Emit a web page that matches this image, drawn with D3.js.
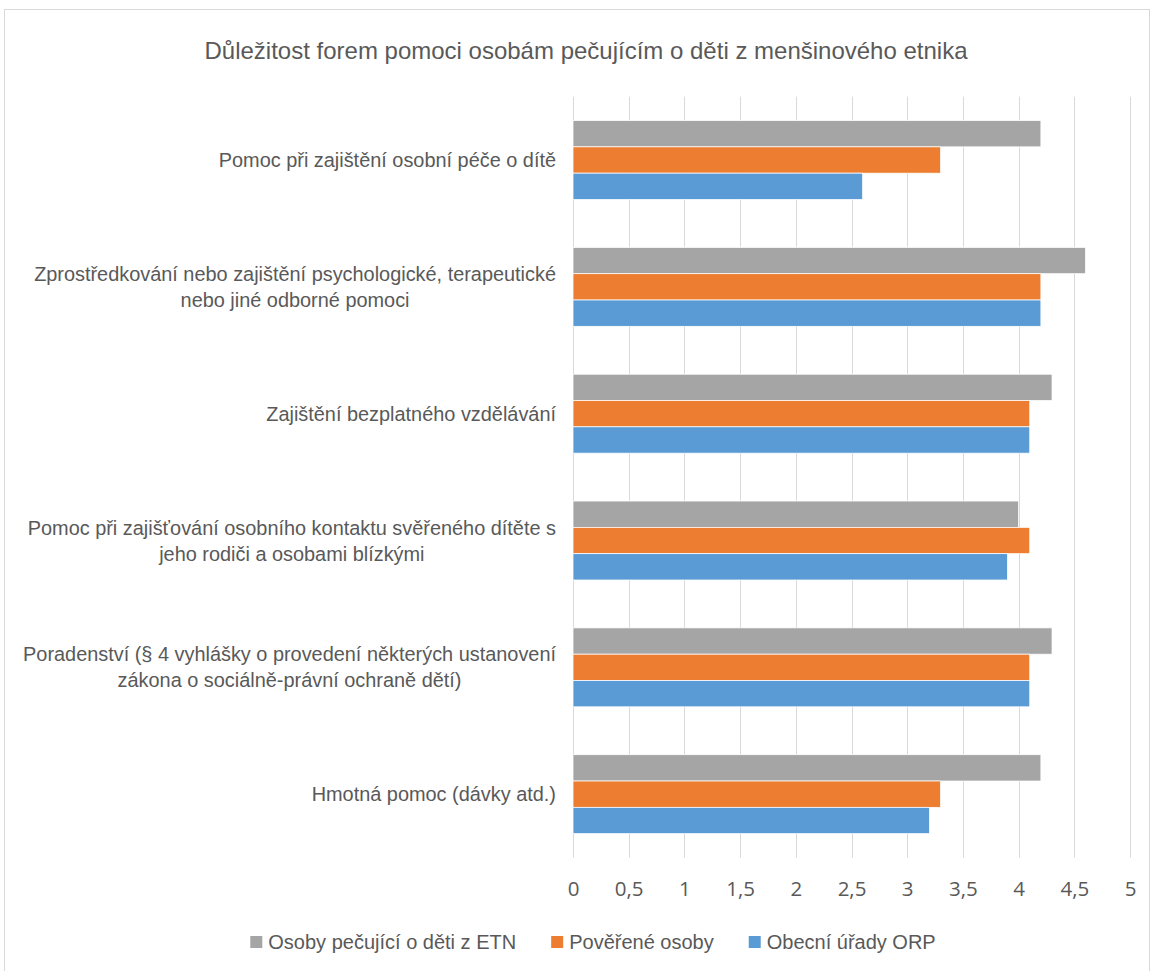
<!DOCTYPE html>
<html>
<head>
<meta charset="utf-8">
<script src="https://cdn.jsdelivr.net/npm/d3@7"></script>
<style>
  html, body { margin: 0; padding: 0; background: #fff; }
  svg { display: block; }
</style>
</head>
<body>
<svg id="chart" width="1153" height="971"></svg>
<script>
// Categories (top to bottom), each given as its wrapped label lines
const categories = [
  ["Pomoc při zajištění osobní péče o dítě"],
  ["Zprostředkování nebo zajištění psychologické, terapeutické", "nebo jiné odborné pomoci"],
  ["Zajištění bezplatného vzdělávání"],
  ["Pomoc při zajišťování osobního kontaktu svěřeného dítěte s", "jeho rodiči a osobami blízkými"],
  ["Poradenství (§ 4 vyhlášky o provedení některých ustanovení", "zákona o sociálně-právní ochraně dětí)"],
  ["Hmotná pomoc (dávky atd.)"]
];

const seriesNames = ["Osoby pečující o děti z ETN", "Pověřené osoby", "Obecní úřady ORP"];
const seriesColors = ["#A5A5A5", "#ED7D31", "#5B9BD5"];

// Average ratings per category, same order as categories
const valuesETN = [4.2, 4.6, 4.3, 4.0, 4.3, 4.2];
const valuesPoverene = [3.3, 4.2, 4.1, 4.1, 4.1, 3.3];
const valuesORP = [2.6, 4.2, 4.1, 3.9, 4.1, 3.2];

const tickValues = [0, 0.5, 1, 1.5, 2, 2.5, 3, 3.5, 4, 4.5, 5];
const titleText = "Důležitost forem pomoci osobám pečujícím o děti z menšinového etnika";

const seriesValues = [valuesETN, valuesPoverene, valuesORP];
const plot = { left: 573, right: 1130, top: 96.6, bottom: 857.6 };
const textColor = "#595959";
const sans = "'Liberation Sans', Arial, sans-serif";

const svg = d3.select("#chart");

// Chart frame
svg.append("rect")
  .attr("x", 4.5).attr("y", 9.5)
  .attr("width", 1145).attr("height", 980)
  .attr("fill", "#fff").attr("stroke", "#d9d9d9").attr("stroke-width", 1);

// Title
svg.append("text")
  .attr("x", 586).attr("y", 59)
  .attr("text-anchor", "middle")
  .attr("font-family", sans).attr("font-size", 24)
  .attr("fill", textColor)
  .text(titleText);

const x = d3.scaleLinear().domain([0, 5]).range([plot.left, plot.right]);
const catIdx = d3.range(categories.length);
const y0 = d3.scaleBand().domain(catIdx).range([plot.top, plot.bottom]).padding(0);
const y1 = d3.scaleBand().domain(d3.range(seriesNames.length))
  .range([0, y0.bandwidth()]).paddingInner(0).paddingOuter(0.91);

// Vertical gridlines
svg.append("g").selectAll("line")
  .data(tickValues).join("line")
  .attr("x1", d => Math.round(x(d)) + 0.5).attr("x2", d => Math.round(x(d)) + 0.5)
  .attr("y1", plot.top).attr("y2", plot.bottom)
  .attr("stroke", "#d9d9d9").attr("stroke-width", 1);

// Bars
const groups = svg.append("g").selectAll("g")
  .data(catIdx).join("g")
  .attr("transform", i => `translate(0,${y0(i)})`);

groups.selectAll("rect")
  .data(i => seriesValues.map((vals, s) => ({ s, v: vals[i] })))
  .join("rect")
  .attr("x", x(0))
  .attr("y", d => y1(d.s))
  .attr("width", d => x(d.v) - x(0))
  .attr("height", y1.bandwidth())
  .attr("fill", d => seriesColors[d.s])
  .attr("stroke", "#ffffff").attr("stroke-width", 0.75);

// X axis tick labels
const xAxis = d3.axisBottom(x)
  .tickValues(tickValues)
  .tickSize(0)
  .tickPadding(0)
  .tickFormat(d => String(d).replace(".", ","));

const axisG = svg.append("g")
  .attr("transform", `translate(0,${plot.bottom})`)
  .call(xAxis);
axisG.select(".domain").remove();
axisG.selectAll("text")
  .attr("y", 38.5).attr("dy", null)
  .attr("font-family", "'Open Sans', sans-serif")
  .attr("font-size", 20.5)
  .attr("fill", textColor);

// Category labels: block right-aligned to the plot, lines centered within the block
const labelRight = 556;
const lineH = 26;
const labelG = svg.append("g")
  .attr("font-family", sans).attr("font-size", 19.9).attr("fill", textColor);

catIdx.forEach(i => {
  const lines = categories[i];
  const cy = y0(i) + y0.bandwidth() / 2;
  const t = labelG.append("text").attr("text-anchor", "middle");
  const spans = lines.map((ln, k) => t.append("tspan")
    .attr("y", cy + (k - (lines.length - 1) / 2) * lineH + 7)
    .text(ln));
  const widths = spans.map(sp => sp.node().getComputedTextLength());
  const blockW = d3.max(widths);
  spans.forEach(sp => sp.attr("x", labelRight - blockW / 2));
});

// Legend
const legendY = 942;
const legendG = svg.append("g")
  .attr("font-family", sans).attr("font-size", 20).attr("fill", textColor);
const items = seriesNames.map((name, s) => {
  const g = legendG.append("g");
  g.append("rect").attr("x", 0).attr("y", legendY - 6)
    .attr("width", 12).attr("height", 12).attr("fill", seriesColors[s]);
  const tx = g.append("text").attr("x", 18).attr("y", legendY + 7).text(name);
  return { g, w: 18 + tx.node().getComputedTextLength() };
});
const gap = 35;
const totalW = d3.sum(items, d => d.w) + gap * (items.length - 1);
let cursor = 593 - totalW / 2;
items.forEach(it => {
  it.g.attr("transform", `translate(${cursor},0)`);
  cursor += it.w + gap;
});
</script>
</body>
</html>
